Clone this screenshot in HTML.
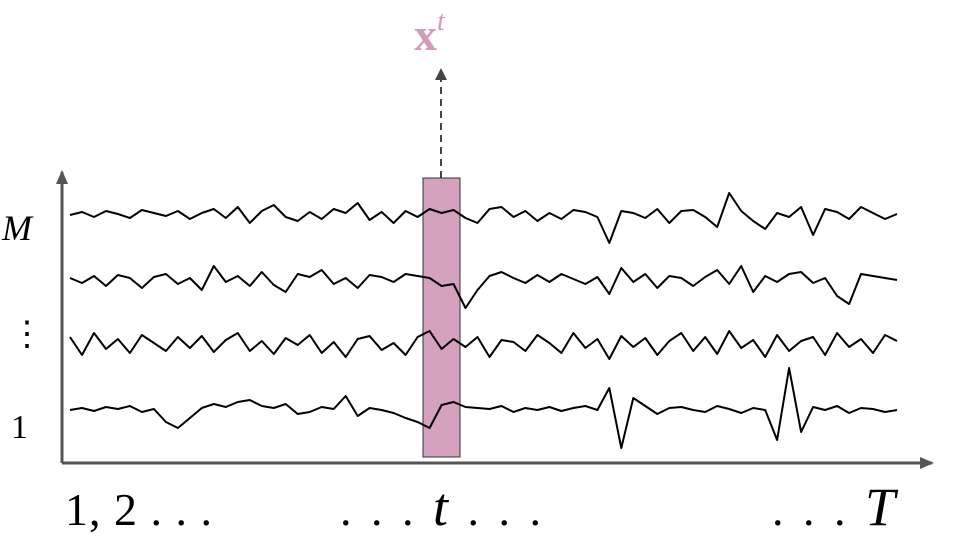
<!DOCTYPE html>
<html><head><meta charset="utf-8">
<style>
body{margin:0;background:#fff;width:960px;height:540px;overflow:hidden}
svg{display:block}
text{font-family:"Liberation Serif",serif}
</style></head>
<body>
<svg id="chart" width="960" height="540">
  <defs>
    <marker id="ah" markerWidth="14" markerHeight="12" refX="12" refY="6" orient="auto" markerUnits="userSpaceOnUse">
      <path d="M0,0 L14,6 L0,12 z" fill="#555"/>
    </marker>
    <marker id="ah2" markerWidth="12" markerHeight="12" refX="10" refY="6" orient="auto" markerUnits="userSpaceOnUse">
      <path d="M0,0 L12,6 L0,12 z" fill="#444"/>
    </marker>
  </defs>
  <rect x="423" y="178" width="37" height="279" fill="#d4a1bf" stroke="#333" stroke-width="1"/>
  <g id="series"></g>
  <line x1="441" y1="178" x2="441" y2="70" stroke="#444" stroke-width="2" stroke-dasharray="7,5" marker-end="url(#ah2)"/>
  <text x="414" y="50" font-size="46" font-weight="bold" fill="#d19bbb">x<tspan font-size="28" font-style="italic" font-weight="normal" dy="-20">t</tspan></text>
  <line x1="62" y1="463" x2="62" y2="172" stroke="#555" stroke-width="3" marker-end="url(#ah)"/>
  <line x1="62" y1="463" x2="932" y2="463" stroke="#555" stroke-width="3" marker-end="url(#ah)"/>
  <text x="2" y="240" font-size="36" font-style="italic">M</text>
  <text x="10" y="345" font-size="34">⋮</text>
  <text x="11" y="438" font-size="34">1</text>
  <text x="65" y="525" font-size="46" letter-spacing="1">1, 2 . . .</text>
  <text x="340" y="525" font-size="46" letter-spacing="4">. . . <tspan font-style="italic" font-size="54">t</tspan> . . .</text>
  <text x="772" y="525" font-size="46" letter-spacing="4">. . . <tspan font-style="italic" font-size="54">T</tspan></text>
</svg>
<script>
const seriesBottom=[0,2,-1,3,1,4,-2,1,-12,-18,-8,2,6,3,8,10,4,2,6,-4,-2,3,1,14,-6,2,0,-3,-8,-12,-18,5,8,3,2,1,4,-2,2,0,3,-1,2,4,0,22,-38,12,4,-4,2,3,0,-2,4,1,-3,2,0,-30,42,-22,3,0,4,-3,2,1,-2,0];
const seriesThird=[8,-10,12,-4,6,-8,10,2,-6,8,-3,9,-7,5,12,-6,4,-9,7,0,10,-8,3,-12,6,9,-5,2,-10,8,14,-4,6,-2,8,-12,5,3,-6,10,2,-8,12,-3,6,-14,9,-2,7,-10,4,12,-6,8,-9,14,-3,5,-12,10,-6,4,8,-10,12,-2,6,-8,10,4];
const seriesSecond=[2,-3,4,-6,5,2,-8,3,6,-4,2,-10,14,-2,4,-6,8,-5,-12,6,3,10,-4,2,-8,5,3,-2,6,4,2,-6,-4,-28,-10,4,8,2,-3,5,-2,6,1,-4,3,-14,12,-2,6,-8,4,2,-6,3,10,-4,14,-12,4,-2,6,8,-3,2,-16,-24,6,4,2,0];
const seriesTop=[0,3,-2,4,1,-3,5,2,-1,4,-4,2,6,-3,8,-8,4,10,-2,-6,3,-4,6,2,12,-5,3,-8,4,-2,6,2,5,-3,-8,6,8,-2,4,-6,2,-4,5,3,-2,-28,4,2,-3,6,-8,4,5,-2,-12,22,4,-6,-14,2,-2,8,-20,6,3,-4,8,2,-4,1];
const baselines=[410,345,280,215];
const allSeries=[seriesBottom,seriesThird,seriesSecond,seriesTop];
const names=['series-1','series-3','series-2','series-m'];
const g=document.getElementById('series');
function xScale(i,n){return 70+i*(897-70)/(n-1);}
function yScale(v,b){return b-v;}
allSeries.forEach((s,k)=>{
  const pts=s.map((v,i)=>xScale(i,s.length).toFixed(1)+','+yScale(v,baselines[k]).toFixed(1)).join(' ');
  const pl=document.createElementNS('http://www.w3.org/2000/svg','polyline');
  pl.setAttribute('points',pts);
  pl.setAttribute('fill','none');
  pl.setAttribute('stroke','#000');
  pl.setAttribute('stroke-width','2');
  pl.setAttribute('stroke-linejoin','round');
  
  
  g.appendChild(pl);
});
</script>
</body></html>
